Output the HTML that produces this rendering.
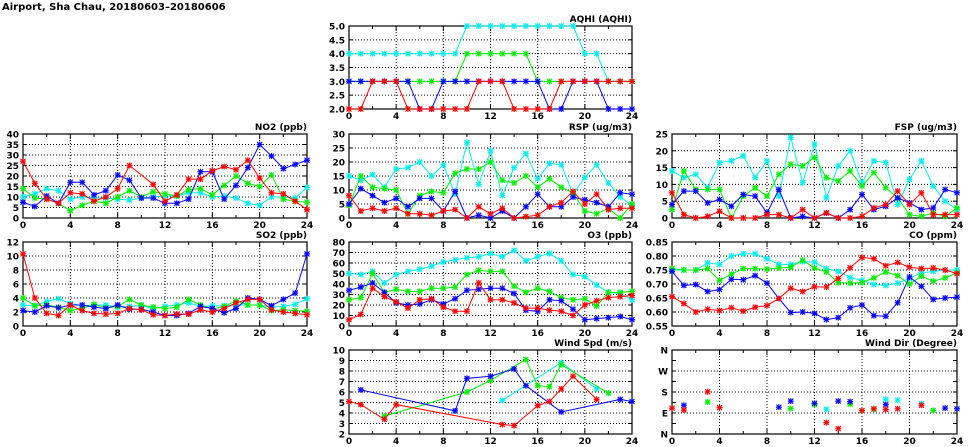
<!DOCTYPE html>
<html><head><meta charset="utf-8">
<style>
body{margin:0;background:#fff;width:975px;height:447px;overflow:hidden}
svg{display:block}
text{font-family:"DejaVu Sans","Liberation Sans",sans-serif;font-weight:bold;fill:#000}
</style></head>
<body>
<svg id="c" width="975" height="447" viewBox="0 0 975 447">
<text x="2" y="10" font-size="10" font-weight="normal">Airport, Sha Chau, 20180603–20180606</text>
</svg>
<script>
const hours=[0,1,2,3,4,5,6,7,8,9,10,11,12,13,14,15,16,17,18,19,20,21,22,23,24];
const xTicks=[0,4,8,12,16,20,24];
const colors={red:"#ff0000",blue:"#0000ff",green:"#00ee00",cyan:"#00eeee"};
const N=null;
const aqhiCyan=[4,4,4,4,4,4,4,4,4,4,5,5,5,5,5,5,5,5,5,5,4,4,3,3,3];
const aqhiGreen=[3,3,3,3,3,3,3,3,3,3,4,4,4,4,4,4,3,3,3,3,3,3,3,3,3];
const aqhiBlue=[3,3,3,3,3,3,2,2,3,3,3,3,3,3,3,3,3,2,2,3,3,3,2,2,2];
const aqhiRed=[2,2,3,3,3,2,2,2,2,2,2,3,3,3,2,2,2,2,3,3,3,3,3,3,3];
const no2Red=[27,16.5,9,7,12,11.5,8,10,14,25,N,16,8,11,18.5,18.5,22.5,24.5,23,27.5,19,12,11.5,8,4];
const no2Blue=[7.5,5.5,10.5,7,17,17,11,13,20.5,18,9.5,9.5,7,7,9,22,22,9,15.5,24,35,29.5,23.5,25.5,27.5];
const no2Green=[14,9.5,9,7,3.5,6,8,7,10,13,10,12.5,11.5,10.5,13.5,14,11,15.5,20,16.5,15,20.5,9,8,7.5];
const no2Cyan=[10,11.5,14,13,9,10,9.5,9.5,9,8.5,9.5,10,10.5,10.5,12,12,10,10.5,9.5,7,6,10,10,9.5,14.5];
const rspCyan=[15,13.5,15.5,11,17.5,18,20,15,19,8.5,27,12,24,8,18,23,14,19.5,19,8.5,14.5,19,12.5,7.5,4.5];
const rspGreen=[4.5,15,11,10.5,10,1.5,8,9.5,9,16,17.5,17.5,20,13.5,12.5,15,11,14,11,9,2.5,1.5,3.5,0,5];
const rspBlue=[5,10.5,8,5.5,7,4,7,7,2.5,9.5,0,1,0,2.5,0,4,8.5,4,4,7.5,6.5,5.5,4,9,8.5];
const rspRed=[8,2.5,3.5,2.5,3.5,1.5,1.5,1,2.5,3,0,4,1.5,3.5,0,0.5,1,4,5.5,9.5,5,8.5,3,3.5,3.5];
const fspCyan=[14,12,13,9,16.5,17,18.5,12,17,6.5,24,10.5,22,6,15.5,20,10.5,17,16.5,4,11.5,17,9.5,5,2.5];
const fspGreen=[2.5,14,8.5,8.5,8.5,0,6.5,9,6.5,13,16,15.5,18,12,11,14,9.5,13.5,9,6,1,0.5,1.5,0.5,3];
const fspBlue=[4,8,8,4.5,5.5,3.5,7,6.5,1.5,8.5,0,0.5,0,1.5,0,2.5,7,2.5,3.5,6,4.5,2.5,3,8.5,7.5];
const fspRed=[7.5,1,0,0.5,2,0,0,0,1,1,0,2.5,0,1.5,0,0,0.5,3,4,8,4,7.5,1,1,1];
const so2Red=[10.3,4,1.8,1.5,3,2.2,1.8,1.7,1.8,2.5,2.3,1.6,1.5,1.7,1.7,2.3,2,2.5,3.3,3.8,3.8,2.3,2,1.8,1.6];
const so2Blue=[2.2,2,2.9,2.6,3,3,2.7,2.5,3,2.4,2.4,2,1.5,1.5,1.8,2.8,2.5,1.9,2.5,4,3.8,2.9,3.8,4.7,10.3];
const so2Green=[4,2.9,3,2.7,2.2,2.5,3.1,2.6,2.8,3.8,3,2.7,2.5,2.7,3.8,3,2.4,2.8,3.6,3,3,2.2,2.3,2.2,2.1];
const so2Cyan=[3,2.9,3.5,3.9,3.2,2.9,3,3,2.7,2.8,2.9,2.5,2.8,3,3.3,2.8,2.9,2.9,3,3,3,2.7,2.8,3.1,3.9];
const o3Cyan=[50,49,52,41,49,52,54,57,61,63,65,66,69,66,72,62,66,69,62,49,47,39,32,31,25];
const o3Green=[25,27,50,32,35,33,33,36,36,37,49,53,52,52,38,32,36,33,27,25,26,19,32,32,33];
const o3Blue=[34,37,41,32,22,20,21,25,21,26,34,35,36,36,31,15,14,25,24,16,6,7,8,9,6];
const o3Red=[6,11,36,28,23,17,25,26,18,14,14,41,25,25,22,17,17,15,14,10,20,24,27,28,29];
const coRed=[.655,.63,.60,.61,.605,.615,.603,.617,.623,.648,.685,.673,.69,.689,.72,.758,.795,.79,.765,.777,.76,.755,.757,.75,.737];
const coBlue=[.745,.695,.698,.673,.68,.717,.715,.73,.703,.648,.598,.60,.595,.573,.58,.615,.625,.587,.585,.633,.725,.692,.645,.65,.653];
const coGreen=[.755,.75,.75,.755,.713,.735,.755,.755,.753,.757,.76,.785,.757,.743,.705,.703,.705,.722,.743,.73,.70,.728,.71,.722,.74];
const coCyan=[.75,.75,.75,.775,.77,.8,.808,.808,.79,.77,.77,.78,.778,.755,.745,.723,.713,.698,.695,.703,.72,.74,.745,.75,.75];
const wsBlue=[N,6.2,N,N,N,N,N,N,N,4.2,7.3,N,7.5,N,8.2,6.6,N,N,4.1,N,N,N,N,5.3,5.1];
const wsRed=[5.1,4.8,N,3.4,4.8,N,N,N,N,N,N,N,N,2.9,2.8,N,4.7,5.1,6.3,7.5,N,5.3,N,N,N];
const wsGreen=[N,N,N,3.7,N,N,N,N,N,N,6,N,7.1,N,N,9.1,6.6,6.5,8.6,N,N,N,5.9,N,N];
const wsCyan=[N,N,N,N,N,N,N,N,N,N,N,N,N,5.2,N,N,N,N,8.8,N,N,6.3,N,N,N];
const wdRed=[111,103,N,181,113,N,N,N,N,N,N,N,N,49,23,N,100,108,105,108,N,123,N,N,N];
const wdBlue=[N,123,N,N,N,N,N,N,N,115,141,N,132,N,141,139,N,N,126,N,N,N,N,111,108];
const wdGreen=[N,N,N,137,N,N,N,N,N,N,109,N,126,N,N,128,100,106,N,N,N,N,101,N,N];
const wdCyan=[N,N,N,N,N,N,N,N,N,N,N,N,N,106,N,N,N,N,149,145,N,130,N,N,N];
const wdLabels=["N","E","S","W","N"];

const svg=document.getElementById('c');
const NS="http://www.w3.org/2000/svg";
function mk(tag,attrs,parent){const e=document.createElementNS(NS,tag);for(const k in attrs)e.setAttribute(k,attrs[k]);(parent||svg).appendChild(e);return e;}

function panel(cfg){
  const g=mk('g',{});
  
  
  const {L,R,T,B,ymin,ymax,step}=cfg;
  const xs=v=>L+(v-0)/24*(R-L);
  const ys=v=>B-(v-ymin)/(ymax-ymin)*(B-T);
  for(const t of xTicks){ if(t>0&&t<24) mk('line',{x1:xs(t),x2:xs(t),y1:T,y2:B,stroke:'#000','stroke-width':1,'stroke-dasharray':'1,2'},g); }
  const nY=Math.round((ymax-ymin)/step);
  for(let i=0;i<=nY;i++){
    const v=ymin+i*step, y=ys(v);
    if(i>0&&i<nY&&(!cfg.gridEvery||i%cfg.gridEvery===0)) mk('line',{x1:L,x2:R,y1:y,y2:y,stroke:'#000','stroke-width':1,'stroke-dasharray':'1,2'},g);
    mk('line',{x1:L,x2:L+4,y1:y,y2:y,stroke:'#000'},g);
    mk('line',{x1:R-4,x2:R,y1:y,y2:y,stroke:'#000'},g);
    if(!cfg.labelEvery||i%cfg.labelEvery===0){
      const lab=cfg.ylabels?cfg.ylabels[i/(cfg.labelEvery||1)]:v.toFixed(cfg.dec||0);
      const t=mk('text',{x:L-4,y:y+3.5,'font-size':9,'text-anchor':'end'},g);
      t.textContent=lab;
      
      
    }
  }
  for(let h=0;h<=24;h+=2){const x=xs(h);const len=h%4===0?5:3;
    mk('line',{x1:x,x2:x,y1:B,y2:B-len,stroke:'#000'},g);mk('line',{x1:x,x2:x,y1:T,y2:T+len,stroke:'#000'},g);}
  for(const t of xTicks){
    const tx=mk('text',{x:xs(t),y:B+10,'font-size':9,'text-anchor':'middle'},g);
    tx.textContent=t;
    
    
  }
  mk('rect',{x:L,y:T,width:R-L,height:B-T,fill:'none',stroke:'#000','stroke-width':1.2},g);
  const title=mk('text',{x:R,y:T-4,'font-size':9,'text-anchor':'end'},g);
  title.textContent=cfg.title;
  
  
  for(const s of cfg.series){
    const sg=mk('g',{},g);
    
    
    const col=colors[s.c];
    const pts=[];
    s.d.forEach((v,i)=>{ if(v!==null) pts.push([xs(hours[i]),ys(v)]); });
    if(!cfg.noLine&&pts.length>1){
      const pl=mk('polyline',{points:pts.map(p=>p.join(',')).join(' '),fill:'none',stroke:col,'stroke-width':1},sg);
      
      
    }
    for(const [x,y] of pts){
      const sq=mk('rect',{x:x-2.5,y:y-2.5,width:5,height:5,fill:col,'fill-opacity':0.3,stroke:'none'},sg);
      
      
      const m=mk('path',{d:`M${x-2.5},${y-2.5}L${x+2.5},${y+2.5}M${x+2.5},${y-2.5}L${x-2.5},${y+2.5}M${x},${y-3}V${y+3}M${x-3},${y}H${x+3}`,fill:'none',stroke:col,'stroke-width':1},sg);
      
      
    }
  }
}
const S=(r,b,gr,c)=>[{c:'cyan',d:c},{c:'green',d:gr},{c:'blue',d:b},{c:'red',d:r}];
panel({name:'aqhi',title:'AQHI (AQHI)',L:349,R:632,T:26,B:109,ymin:2,ymax:5,step:0.5,dec:1,series:S(aqhiRed,aqhiBlue,aqhiGreen,aqhiCyan)});
panel({name:'no2',title:'NO2 (ppb)',L:23,R:307,T:134,B:218,ymin:0,ymax:40,step:5,series:S(no2Red,no2Blue,no2Green,no2Cyan)});
panel({name:'rsp',title:'RSP (ug/m3)',L:349,R:632,T:134,B:218,ymin:0,ymax:30,step:5,series:S(rspRed,rspBlue,rspGreen,rspCyan)});
panel({name:'fsp',title:'FSP (ug/m3)',L:672,R:957,T:134,B:218,ymin:0,ymax:25,step:5,series:S(fspRed,fspBlue,fspGreen,fspCyan)});
panel({name:'so2',title:'SO2 (ppb)',L:23,R:307,T:242,B:326,ymin:0,ymax:12,step:2,series:S(so2Red,so2Blue,so2Green,so2Cyan)});
panel({name:'o3',title:'O3 (ppb)',L:349,R:632,T:242,B:326,ymin:0,ymax:80,step:10,series:S(o3Red,o3Blue,o3Green,o3Cyan)});
panel({name:'co',title:'CO (ppm)',L:672,R:957,T:242,B:326,ymin:0.55,ymax:0.85,step:0.05,dec:2,series:S(coRed,coBlue,coGreen,coCyan)});
panel({name:'wind-speed',title:'Wind Spd (m/s)',L:349,R:632,T:350,B:434,ymin:2,ymax:10,step:1,series:S(wsRed,wsBlue,wsGreen,wsCyan)});
panel({name:'wind-dir',title:'Wind Dir (Degree)',L:672,R:957,T:350,B:434,ymin:0,ymax:360,step:45,gridEvery:2,labelEvery:2,ylabels:wdLabels,noLine:true,series:S(wdRed,wdBlue,wdGreen,wdCyan)});
</script>
</body></html>
